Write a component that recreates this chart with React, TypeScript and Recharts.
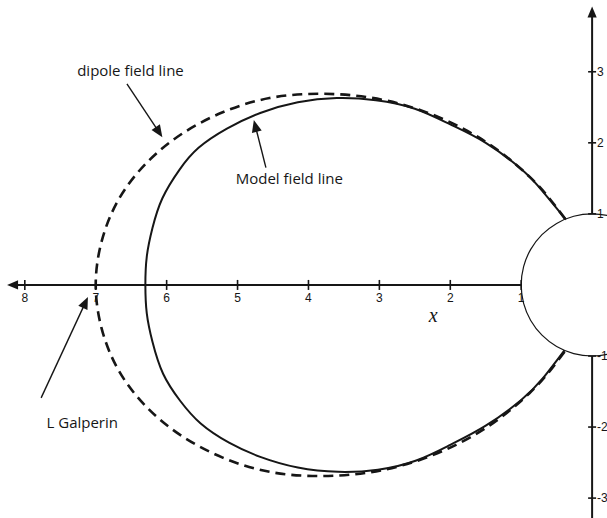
import { ComposedChart, Line, XAxis, YAxis, ReferenceLine, ReferenceDot } from "recharts";

// distances in Earth radii, x grows to the left (nightside)
const xTicks = [8, 7, 6, 5, 4, 3, 2, 1];
const yTicks = [3, 2, 1, -1, -2, -3];

// model (stretched) field line
const modelX = [
  0.37, 0.7, 1.0, 1.5, 2.0, 2.5, 3.05, 3.6, 4.15, 4.68, 5.15, 5.55, 5.82, 6.06, 6.2, 6.28, 6.3,
  6.28, 6.2, 6.05, 5.81, 5.52, 5.12, 4.68, 4.15, 3.58, 3.02, 2.48, 2.0, 1.5, 1.0, 0.7, 0.39,
];
const modelY = [
  0.92, 1.32, 1.63, 2.0, 2.26, 2.48, 2.6, 2.63, 2.57, 2.42, 2.2, 1.93, 1.62, 1.22, 0.8, 0.4, 0,
  -0.4, -0.8, -1.25, -1.63, -1.95, -2.22, -2.42, -2.57, -2.63, -2.6, -2.47, -2.25, -1.98, -1.62, -1.32, -0.92,
];

// dipole field line crossing at L = 7
const dipoleX = [
  0.38, 0.62, 0.88, 1.32, 1.86, 2.48, 3.15, 3.85, 4.55, 5.21, 5.81, 6.31, 6.69, 6.92, 7.0,
  6.92, 6.69, 6.31, 5.81, 5.21, 4.55, 3.85, 3.15, 2.48, 1.86, 1.32, 0.88, 0.62, 0.38,
];
const dipoleY = [
  0.93, 1.24, 1.52, 1.89, 2.22, 2.48, 2.64, 2.69, 2.63, 2.43, 2.11, 1.69, 1.18, 0.6, 0,
  -0.6, -1.18, -1.69, -2.11, -2.43, -2.63, -2.69, -2.64, -2.48, -2.22, -1.89, -1.52, -1.24, -0.93,
];

// the Earth, radius 1
const earthX = [
  -1, -0.966, -0.866, -0.707, -0.5, -0.259, 0, 0.259, 0.5, 0.707, 0.866, 0.966, 1,
  0.966, 0.866, 0.707, 0.5, 0.259, 0, -0.259, -0.5, -0.707, -0.866, -0.966, -1,
];
const earthY = [
  0, 0.259, 0.5, 0.707, 0.866, 0.966, 1, 0.966, 0.866, 0.707, 0.5, 0.259, 0,
  -0.259, -0.5, -0.707, -0.866, -0.966, -1, -0.966, -0.866, -0.707, -0.5, -0.259, 0,
];

const axisSegments = [
  { x1: 1, y1: 0, x2: 8.25, y2: 0, arrow: true },
  { x1: 0, y1: 1, x2: 0, y2: 3.92, arrow: true },
  { x1: 0, y1: -1, x2: 0, y2: -3.3, arrow: false },
];

const pointers = [
  { x1: 6.56, y1: 2.83, x2: 6.06, y2: 2.08 },
  { x1: 4.6, y1: 1.65, x2: 4.77, y2: 2.32 },
  { x1: 7.77, y1: -1.59, x2: 7.11, y2: -0.17 },
];

const notes = [
  { text: "dipole field line", x: 6.51, y: 3.03 },
  { text: "Model field line", x: 4.27, y: 1.51 },
  { text: "L Galperin", x: 7.19, y: -1.93 },
];

const INK = "#161616";

const toPoints = (xs: number[], ys: number[]) => xs.map((x, i) => ({ x, y: ys[i] }));

function arrowShape(width: number, head: number, showHead: boolean) {
  return (p: any) => {
    const { x1, y1, x2, y2 } = p;
    const dx = x2 - x1;
    const dy = y2 - y1;
    const len = Math.sqrt(dx * dx + dy * dy) || 1;
    const ux = dx / len;
    const uy = dy / len;
    const bx = x2 - ux * head;
    const by = y2 - uy * head;
    const hw = head * 0.42;
    return (
      <g>
        <line
          x1={x1}
          y1={y1}
          x2={showHead ? bx + ux * 2 : x2}
          y2={showHead ? by + uy * 2 : y2}
          stroke={INK}
          strokeWidth={width}
        />
        {showHead && (
          <polygon
            points={`${x2},${y2} ${bx - uy * hw},${by + ux * hw} ${bx + uy * hw},${by - ux * hw}`}
            fill={INK}
          />
        )}
      </g>
    );
  };
}

const xTickShape = (label: string) => (p: any) => (
  <g>
    <line x1={p.cx} y1={p.cy - 5} x2={p.cx} y2={p.cy + 5} stroke={INK} strokeWidth={1.6} />
    <text
      x={p.cx}
      y={p.cy + 17}
      textAnchor="middle"
      fontSize={12}
      fontFamily="Liberation Sans, Arial, sans-serif"
      fill={INK}
    >
      {label}
    </text>
  </g>
);

const yTickShape = (label: string) => (p: any) => (
  <g>
    <line x1={p.cx - 4} y1={p.cy} x2={p.cx + 4} y2={p.cy} stroke={INK} strokeWidth={1.6} />
    <text
      x={p.cx + 5}
      y={p.cy + 4}
      textAnchor="start"
      fontSize={12}
      fontFamily="Liberation Sans, Arial, sans-serif"
      fill={INK}
    >
      {label}
    </text>
  </g>
);

const noteShape = (text: string, italic = false) => (p: any) => (
  <text
    x={p.cx}
    y={p.cy}
    textAnchor="middle"
    dominantBaseline="central"
    fontSize={italic ? 20 : 15}
    fontStyle={italic ? "italic" : "normal"}
    fontFamily={italic ? "Liberation Serif, serif" : "Open Sans, sans-serif"}
    fill={INK}
  >
    {text}
  </text>
);

export default function App() {
  const model = toPoints(modelX, modelY);
  const dipole = toPoints(dipoleX, dipoleY);
  const earth = toPoints(earthX, earthY);

  return (
    <div style={{ position: "absolute", left: 0, top: 0, width: 607, height: 518, background: "#fff" }}>
      <ComposedChart width={607} height={518} margin={{ top: 0, right: 0, bottom: 0, left: 0 }}>
        <XAxis type="number" dataKey="x" domain={[-0.21, 8.35]} reversed hide allowDataOverflow />
        <YAxis type="number" dataKey="y" domain={[-3.28, 4.01]} hide allowDataOverflow />

        {axisSegments.map((s, i) => (
          <ReferenceLine
            key={`axis-${i}`}
            segment={[
              { x: s.x1, y: s.y1 },
              { x: s.x2, y: s.y2 },
            ]}
            ifOverflow="visible"
            shape={arrowShape(2, 11, s.arrow)}
          />
        ))}

        {xTicks.map((t) => (
          <ReferenceDot key={`xt-${t}`} x={t} y={0} r={0} ifOverflow="visible" shape={xTickShape(String(t))} />
        ))}
        {yTicks.map((t) => (
          <ReferenceDot key={`yt-${t}`} x={0} y={t} r={0} ifOverflow="visible" shape={yTickShape(String(t))} />
        ))}

        <Line
          data={earth}
          dataKey="y"
          type="natural"
          stroke={INK}
          strokeWidth={1.2}
          dot={false}
          activeDot={false}
          isAnimationActive={false}
        />
        <Line
          data={dipole}
          dataKey="y"
          type="natural"
          stroke={INK}
          strokeWidth={2.6}
          strokeDasharray="10 6"
          dot={false}
          activeDot={false}
          isAnimationActive={false}
        />
        <Line
          data={model}
          dataKey="y"
          type="natural"
          stroke={INK}
          strokeWidth={2}
          dot={false}
          activeDot={false}
          isAnimationActive={false}
        />

        {pointers.map((s, i) => (
          <ReferenceLine
            key={`ptr-${i}`}
            segment={[
              { x: s.x1, y: s.y1 },
              { x: s.x2, y: s.y2 },
            ]}
            ifOverflow="visible"
            shape={arrowShape(1.4, 12, true)}
          />
        ))}

        {notes.map((n) => (
          <ReferenceDot key={n.text} x={n.x} y={n.y} r={0} ifOverflow="visible" shape={noteShape(n.text)} />
        ))}
        <ReferenceDot x={2.24} y={-0.42} r={0} ifOverflow="visible" shape={noteShape("x", true)} />
      </ComposedChart>
    </div>
  );
}
